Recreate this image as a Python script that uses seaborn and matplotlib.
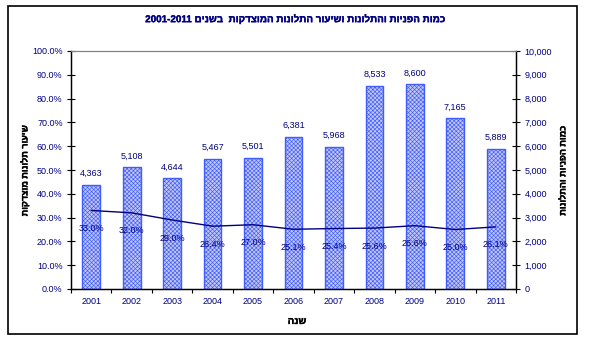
import numpy as np
import pandas as pd
import matplotlib
matplotlib.use("Agg")
import matplotlib.pyplot as plt
import matplotlib.patheffects as pe
from matplotlib.patches import Rectangle
from matplotlib.ticker import FuncFormatter, MultipleLocator, FixedLocator
import seaborn as sns

# Yearly totals (requests + complaints) and share of justified complaints
years = ["2001", "2002", "2003", "2004", "2005", "2006",
         "2007", "2008", "2009", "2010", "2011"]
counts = [4363, 5108, 4644, 5467, 5501, 6381, 5968, 8533, 8600, 7165, 5889]
justified_pct = [33.0, 32.0, 29.0, 26.4, 27.0, 25.1, 25.4, 25.6, 26.6, 25.0, 26.1]

title_text = "כמות הפניות והתלונות ושיעור התלונות המוצדקות  בשנים 2001-2011"
left_label = "שיעור תלונות מוצדקות"
right_label = "כמות הפניות והתלונות"
x_label = "שנה"


def rtl(s):
    """Lay out a right-to-left string in visual order for matplotlib."""
    def is_heb(tok):
        return any("\u0590" <= ch <= "\u05ff" for ch in tok)
    toks = s.split(" ")
    return " ".join(t[::-1] if is_heb(t) else t for t in reversed(toks))


sns.set_style("white")
plt.rcParams["font.family"] = ["Liberation Sans", "DejaVu Sans"]
plt.rcParams["hatch.linewidth"] = 0.45
plt.rcParams["hatch.color"] = "#5a6cff"

navy = "#000080"
bar_edge = "#3f5cff"

df = pd.DataFrame({"year": years, "count": counts,
                   "pct": justified_pct, "pos": np.arange(len(years))})

fig = plt.figure(figsize=(5.97, 3.49), dpi=100)
ax = fig.add_axes([71 / 597, 1 - 289 / 349, 445 / 597, 238 / 349])

# bars on the count axis
sns.barplot(data=df, x="year", y="count", ax=ax, color="#b8bfff",
            width=0.44, edgecolor=bar_edge, linewidth=1.0)
for p in ax.patches:
    p.set_hatch("xxxxxxxx")
    p.set_edgecolor(bar_edge)

for i, c in enumerate(df["count"]):
    ax.annotate(f"{c:,}", (i, c), xytext=(0, 5), textcoords="offset points",
                ha="center", va="bottom", fontsize=6.5, color=navy)

# rate line on the percent axis
ax2 = ax.twinx()
sns.lineplot(data=df, x="pos", y="pct", ax=ax2, color=navy, linewidth=1.0)
for i, v in enumerate(df["pct"]):
    ax2.annotate(f"{v:.1f}%", (i, v), xytext=(0, -13), textcoords="offset points",
                 ha="center", va="center", fontsize=6.5, color=navy)

ax.set_ylim(0, 10000)
ax.set_xlim(-0.5, len(years) - 0.5)
ax2.set_ylim(0, 100)
for a in (ax, ax2):
    a.set_xlabel("")
    a.set_ylabel("")

# counts on the right, percentages on the left
ax.yaxis.set_ticks_position("right")
ax.yaxis.set_major_locator(MultipleLocator(1000))
ax.yaxis.set_major_formatter(FuncFormatter(lambda v, _: f"{int(v):,}"))
ax.tick_params(axis="y", left=False, labelleft=False, right=True, labelright=True)
ax2.yaxis.set_ticks_position("left")
ax2.yaxis.set_major_locator(MultipleLocator(10))
ax2.yaxis.set_major_formatter(FuncFormatter(lambda v, _: f"{v:.1f}%"))
ax2.tick_params(axis="y", left=True, labelleft=True, right=False, labelright=False)

for a in (ax, ax2):
    a.tick_params(axis="y", which="major", direction="inout", length=6,
                  width=0.8, color="black", labelsize=6.5, labelcolor=navy, pad=3)
    for s in a.spines.values():
        s.set_linewidth(0.9)
        s.set_color("black")
    a.spines["top"].set_color("#808080")
    a.spines["top"].set_linewidth(0.8)

ax.set_xticks(np.arange(len(years)))
ax.set_xticklabels(years)
ax.xaxis.set_minor_locator(FixedLocator(np.arange(-0.5, len(years), 1.0)))
ax.tick_params(axis="x", which="major", length=0, labelsize=6.5,
               labelcolor=navy, pad=6)
ax.tick_params(axis="x", which="minor", length=3, width=0.8,
               direction="out", color="black", bottom=True)
ax2.tick_params(axis="x", which="both", bottom=False, labelbottom=False)

# titles, slightly thickened
bold_navy = [pe.withStroke(linewidth=0.25, foreground=navy)]
bold_black = [pe.withStroke(linewidth=0.25, foreground="black")]
fig.text(296 / 597, 1 - 19 / 349, rtl(title_text), ha="center", va="center",
         fontsize=7.1, fontweight="bold", color=navy, path_effects=bold_navy)
fig.text(25 / 597, 1 - 171 / 349, rtl(left_label), ha="center", va="center",
         rotation=90, fontsize=6.5, fontweight="bold", color="black",
         path_effects=bold_black)
fig.text(563 / 597, 1 - 171 / 349, rtl(right_label), ha="center", va="center",
         rotation=90, fontsize=6.5, fontweight="bold", color="black",
         path_effects=bold_black)
fig.text(297 / 597, 1 - 321 / 349, rtl(x_label), ha="center", va="center",
         fontsize=7, fontweight="bold", color="black", path_effects=bold_black)

# outer chart frame
fig.patches.append(Rectangle((8 / 597, 1 - 334 / 349), 569 / 597, 328 / 349,
                             transform=fig.transFigure, fill=False,
                             edgecolor="black", linewidth=1.2))

fig.savefig("out.png", dpi=100)
